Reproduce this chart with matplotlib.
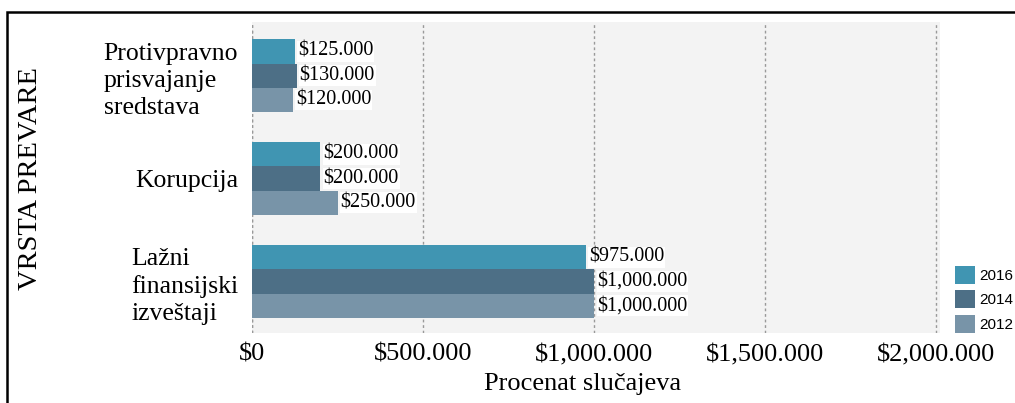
import numpy as np
import matplotlib.pyplot as plt
from matplotlib.patches import Rectangle
from matplotlib.ticker import FuncFormatter

categories = ["Protivpravno\nprisvajanje\nsredstava", "Korupcija", "Lažni\nfinansijski\nizveštaji"]
years = ["2016", "2014", "2012"]
values_2016 = [125000, 200000, 975000]
values_2014 = [130000, 200000, 1000000]
values_2012 = [120000, 250000, 1000000]
colors = ["#4095b2", "#4d6f86", "#7894a8"]

plt.rcParams['font.family'] = ['Liberation Serif', 'DejaVu Serif']


def money(v, pos=None):
    # 1000000 -> "$1,000.000", 125000 -> "$125.000"
    s = f"{int(v):,}"
    if "," in s:
        head, tail = s.rsplit(",", 1)
        s = head + "." + tail
    return "$" + s


fig = plt.figure(figsize=(10.15, 4.03), dpi=100)
ax = fig.add_axes([0.2483, 0.174, 0.6777, 0.771])
ax.set_facecolor("#f3f3f3")

y = np.arange(len(categories))
h = 0.235
series = [values_2016, values_2014, values_2012]
for i, (vals, yr, c) in enumerate(zip(series, years, colors)):
    pos = y + (i - 1) * h
    bars = ax.barh(pos, vals, height=h, color=c, label=yr, zorder=3)
    for b, v in zip(bars, vals):
        ax.text(b.get_width() + 9000, b.get_y() + h / 2, money(v), va="center", ha="left",
                fontsize=14.5, zorder=4,
                bbox=dict(facecolor="white", edgecolor="none", pad=0.6))

ax.set_xlim(0, 2.01e6)
ax.set_ylim(2.5, -0.52)
ax.set_xticks([0, 500000, 1000000, 1500000, 2000000])
ax.xaxis.set_major_formatter(FuncFormatter(money))
ax.set_yticks(y)
ax.set_yticklabels(categories, fontsize=18.5, linespacing=1.3, multialignment="left")
ax.tick_params(axis="x", labelsize=19, length=0, pad=8)
ax.tick_params(axis="y", length=0, pad=10)
ax.grid(axis="x", linestyle=(0, (2, 2)), color="#999999", linewidth=1, zorder=1)
for s in ax.spines.values():
    s.set_visible(False)
ax.axvline(0, linestyle=(0, (2, 2)), color="#999999", linewidth=1, zorder=1)

ax.set_xlabel("Procenat slučajeva", fontsize=19)
ax.xaxis.set_label_coords(0.481, -0.13)
fig.text(0.03, 0.558, "VRSTA PREVARE", rotation=90, fontsize=20.5, va="center", ha="center")

leg = fig.legend(loc="lower left", bbox_to_anchor=(955 / 1015, 1 - 333 / 403), frameon=False,
                 prop={"family": "Liberation Sans", "size": 11},
                 borderpad=0, borderaxespad=0,
                 handlelength=1.3, handleheight=1.45, labelspacing=0.42, handletextpad=0.3)

fig.patches.append(Rectangle((7 / 1015, -0.05), 1.1, 1 - 12 / 403 + 0.05,
                             transform=fig.transFigure, fill=False,
                             edgecolor="black", linewidth=1.8))

fig.savefig("out.png", dpi=100)
